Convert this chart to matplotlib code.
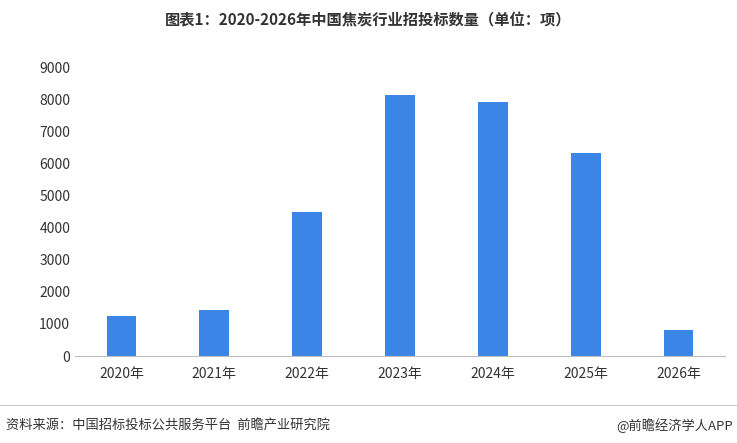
import matplotlib.pyplot as plt

plt.rcParams['font.family'] = ['Noto Sans CJK SC', 'DejaVu Sans']

years = ["2020年", "2021年", "2022年", "2023年", "2024年", "2025年", "2026年"]
counts = [1250, 1440, 4500, 8130, 7900, 6310, 810]

fig = plt.figure(figsize=(7.37, 4.43), dpi=100)
ax = fig.add_axes([75 / 737, 87 / 443, 650 / 737, 289 / 443])

ax.bar(range(len(years)), counts, width=0.32, color="#3a85e6")
ax.set_xlim(-0.5, len(years) - 0.5)
ax.set_ylim(0, 9000)
ax.set_yticks(range(0, 9001, 1000))
ax.set_xticks(range(len(years)))
ax.set_xticklabels(years)
ax.tick_params(axis="both", length=0, labelsize=10, colors="#333333")
ax.tick_params(axis="x", pad=8)
for s in ["top", "right", "left"]:
    ax.spines[s].set_visible(False)
ax.spines["bottom"].set_color("#bfbfbf")

fig.text(0.5, 0.955, "图表1：2020-2026年中国焦炭行业招投标数量（单位：项）",
         ha="center", va="center", fontsize=11, fontweight="bold", color="#333333")
fig.text(0.008, 0.04, "资料来源：中国招标投标公共服务平台  前瞻产业研究院",
         ha="left", va="center", fontsize=9.5, color="#333333")
fig.text(0.995, 0.04, "@前瞻经济学人APP",
         ha="right", va="center", fontsize=9.5, color="#333333")
fig.add_artist(plt.Line2D([0, 1], [0.085, 0.085], color="#cccccc", lw=0.8))

fig.savefig("out.png", dpi=100)
